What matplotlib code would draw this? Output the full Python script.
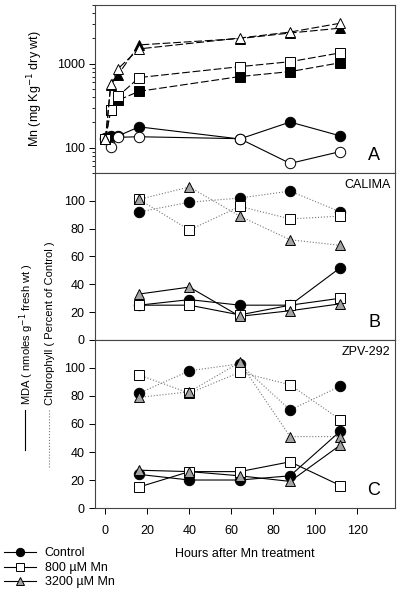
import matplotlib
matplotlib.use("Agg")
import matplotlib.pyplot as plt
from matplotlib.lines import Line2D

plt.rcParams['font.family'] = ['Liberation Sans', 'DejaVu Sans']
plt.rcParams['font.size'] = 9

# Panel A : Mn content (two cultivars, filled / open symbols)
hours_a = [0, 2.5, 6, 16, 64, 88, 112]
mn_ctrl_f = [130, 138, 138, 177, 127, 202, 138]
mn_ctrl_o = [128, 102, 133, 135, 128, 65, 90]
mn_800_f = [128, 280, 367, 469, 703, 805, 1027]
mn_800_o = [128, 280, 409, 684, 922, 1056, 1347]
mn_3200_f = [128, 560, 742, 1673, 1990, 2320, 2650]
mn_3200_o = [128, 566, 873, 1500, 2020, 2380, 3036]

# Panels B, C : chlorophyll (dotted) and MDA (solid)
hours = [16, 40, 64, 88, 112]
chl_b = {'ctrl': [92, 99, 102, 107, 92],
         '800': [101, 79, 96, 87, 89],
         '3200': [101, 110, 89, 72, 68]}
mda_b = {'ctrl': [25, 29, 25, 25, 52],
         '800': [25, 25, 18, 25, 30],
         '3200': [33, 38, 17, 21, 26]}
chl_c = {'ctrl': [82, 98, 103, 70, 87],
         '800': [95, 82, 97, 88, 63],
         '3200': [79, 83, 104, 51, 51]}
mda_c = {'ctrl': [24, 20, 20, 23, 55],
         '800': [15, 26, 26, 33, 16],
         '3200': [27, 26, 23, 19, 45]}

labels = ['Control', '800 µM Mn', '3200 µM Mn']
grey = '#a3a3a3'
sty = {'ctrl': dict(marker='o', mfc='black'),
       '800': dict(marker='s', mfc='white'),
       '3200': dict(marker='^', mfc=grey)}
mk = dict(mec='black', mew=0.7, ms=7.5)

fig = plt.figure(figsize=(4, 5.93), dpi=100)
L, W = 0.2375, 0.75
axA = fig.add_axes([L, 0.7083, W, 0.2833])
axB = fig.add_axes([L, 0.4267, W, 0.2816])
axC = fig.add_axes([L, 0.1433, W, 0.2834])

# Panel A
dash = (0, (7, 2.5))
axA.plot(hours_a, mn_ctrl_f, 'k-', lw=0.8, marker='o', mfc='black', **mk)
axA.plot(hours_a, mn_ctrl_o, 'k-', lw=0.8, marker='o', mfc='white', **mk)
axA.plot(hours_a, mn_800_f, color='k', ls=dash, lw=0.8, marker='s', mfc='black', **mk)
axA.plot(hours_a, mn_800_o, color='k', ls=dash, lw=0.8, marker='s', mfc='white', **mk)
axA.plot(hours_a, mn_3200_f, color='k', ls=dash, lw=0.8, marker='^', mfc='black', **mk)
axA.plot(hours_a, mn_3200_o, color='k', ls=dash, lw=0.8, marker='^', mfc='white', **mk)
axA.set_yscale('log')
axA.set_ylim(50, 5000)
axA.set_yticks([100, 1000])
axA.set_yticklabels(['100', '1000'])
axA.set_ylabel('Mn (mg Kg$^{-1}$ dry wt)', labelpad=8)
axA.text(0.93, 0.08, 'A', transform=axA.transAxes, fontsize=13, ha='center')

# Panels B and C
for ax, chl, mda, name, tag in [(axB, chl_b, mda_b, 'CALIMA', 'B'),
                                (axC, chl_c, mda_c, 'ZPV-292', 'C')]:
    for key in ['ctrl', '800', '3200']:
        ax.plot(hours, chl[key], color='#777777', ls=':', lw=0.8, zorder=1)
        ax.plot(hours, chl[key], ls='none', zorder=3, **sty[key], **mk)
        ax.plot(hours, mda[key], color='black', ls='-', lw=0.8, zorder=2)
        ax.plot(hours, mda[key], ls='none', zorder=3, **sty[key], **mk)
    ax.set_ylim(0, 120)
    ax.set_yticks([0, 20, 40, 60, 80, 100])
    ax.text(0.985, 0.965, name, transform=ax.transAxes, ha='right', va='top', fontsize=9)
    ax.text(0.93, 0.08, tag, transform=ax.transAxes, fontsize=13, ha='center')

for ax in (axA, axB, axC):
    ax.set_xlim(-5, 138)
    ax.set_xticks([0, 20, 40, 60, 80, 100, 120])
    ax.tick_params(direction='out', length=4, width=0.7)
    ax.tick_params(which='minor', direction='out', length=2, width=0.6)
    for s in ax.spines.values():
        s.set_linewidth(0.8)
        s.set_color('#444444')
for ax in (axA, axB):
    ax.tick_params(axis='x', bottom=False, labelbottom=False)
axC.tick_params(axis='x', pad=8)
axC.set_xlabel('Hours after Mn treatment', labelpad=8)

# shared y label for B and C with line keys
fig.text(0.068, 1 - 405 / 593, 'MDA ( nmoles g$^{-1}$ fresh wt )', rotation=90,
         ha='center', va='bottom', fontsize=8)
fig.text(0.125, 1 - 405 / 593, 'Chlorophyll ( Percent of Control )', rotation=90,
         ha='center', va='bottom', fontsize=8)
fig.add_artist(Line2D([0.063, 0.063], [1 - 450 / 593, 1 - 410 / 593],
                      transform=fig.transFigure, color='black', lw=0.8))
fig.add_artist(Line2D([0.122, 0.122], [1 - 467 / 593, 1 - 410 / 593],
                      transform=fig.transFigure, color='#777777', lw=0.8, ls=':'))

mk_leg = dict(mec='black', mew=0.7, ms=6)
handles = [Line2D([], [], color='black', lw=0.8, **sty[k], **mk_leg) for k in ['ctrl', '800', '3200']]
fig.legend(handles, labels, loc='lower left', bbox_to_anchor=(-0.01, -0.005),
           frameon=False, handlelength=2.6, handletextpad=0.7, labelspacing=0.2,
           borderaxespad=0.2, fontsize=9)

fig.savefig('out.png', dpi=100)
